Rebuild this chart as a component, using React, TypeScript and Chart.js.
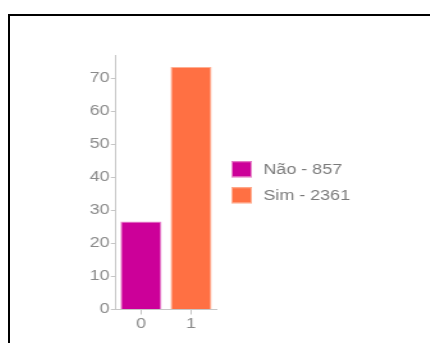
import { useEffect, useRef } from 'react';
import { Chart, registerables } from 'chart.js';
import type { Plugin } from 'chart.js';

Chart.register(...registerables);
const fontFamily = '"Liberation Sans", Arial, Helvetica, sans-serif';
Chart.defaults.font.family = fontFamily;

// Answers and their raw counts
const categories = ['Não', 'Sim'];
const counts = [857, 2361];
// Category labels on the x axis
const tickLabels = ['0', '1'];
// Y axis (percent)
const yMax = 77;
const yStep = 10;

const barColors = ['#CC0099', '#FF7043'];
const barEdgeColors = ['#E98ACB', '#FFAE92'];
const axisColor = '#c6c6c6';
const tickColor = '#8a8a8a';
const legendColor = '#7a7a7a';

// Legend drawn to the right of the plot area, vertically centred on it
const sideLegend: Plugin<'bar'> = {
  id: 'sideLegend',
  afterDraw(chart) {
    const { ctx, chartArea } = chart;
    const box = 16;
    const gap = 10;
    const items = chart.data.datasets;
    const totalH = items.length * box + (items.length - 1) * gap;
    const x = chartArea.right + 12;
    let y = (chartArea.top + chartArea.bottom) / 2 - totalH / 2;
    ctx.save();
    ctx.font = `14px ${fontFamily}`;
    ctx.textBaseline = 'middle';
    ctx.textAlign = 'left';
    items.forEach((ds) => {
      ctx.fillStyle = ds.backgroundColor as string;
      ctx.fillRect(x, y, box, box);
      ctx.strokeStyle = ds.borderColor as string;
      ctx.lineWidth = 1;
      ctx.strokeRect(x + 0.5, y + 0.5, box - 1, box - 1);
      ctx.fillStyle = legendColor;
      ctx.fillText(String(ds.label), x + box + 9, y + box / 2 + 0.5);
      y += box + gap;
    });
    ctx.restore();
  },
};

export default function App() {
  const canvasRef = useRef<HTMLCanvasElement>(null);

  useEffect(() => {
    const canvas = canvasRef.current;
    if (!canvas) return;
    const total = counts.reduce((a, b) => a + b, 0);
    const shares = counts.map((c) => (c / total) * 100);

    const chart = new Chart(canvas, {
      type: 'bar',
      data: {
        labels: tickLabels,
        datasets: categories.map((name, i) => ({
          label: `${name} - ${counts[i]}`,
          data: tickLabels.map((_, j) => (j === i ? shares[i] : null)),
          backgroundColor: barColors[i],
          borderColor: barEdgeColors[i],
          borderWidth: 1,
          grouped: false,
          barPercentage: 0.82,
          categoryPercentage: 1,
        })),
      },
      options: {
        responsive: false,
        animation: false,
        devicePixelRatio: 1,
        layout: { padding: { left: 61.2, top: 39, right: 115, bottom: 9.7 } },
        plugins: {
          tooltip: { enabled: false },
          legend: { display: false },
        },
        scales: {
          x: {
            grid: {
              offset: false,
              drawOnChartArea: false,
              drawTicks: true,
              tickLength: 5,
              color: axisColor,
            },
            border: { color: axisColor },
            ticks: { color: tickColor, font: { size: 14 }, padding: 1 },
          },
          y: {
            min: 0,
            max: yMax,
            grid: {
              drawOnChartArea: false,
              drawTicks: true,
              tickLength: 4,
              color: axisColor,
            },
            border: { color: axisColor },
            ticks: {
              stepSize: yStep,
              includeBounds: false,
              color: tickColor,
              font: { size: 14 },
              padding: 1,
            },
          },
        },
      },
      plugins: [sideLegend],
    });
    return () => chart.destroy();
  }, []);

  return (
    <div
      style={{
        position: 'fixed',
        left: 0,
        top: 0,
        width: 430,
        height: 343,
        overflow: 'hidden',
        background: '#fff',
      }}
    >
      <div
        style={{
          position: 'absolute',
          left: 8,
          top: 14,
          width: 470,
          height: 380,
          border: '2px solid #000',
          boxSizing: 'border-box',
        }}
      >
        <canvas
          ref={canvasRef}
          width={276}
          height={327}
          style={{
            position: 'absolute',
            left: 0,
            top: 0,
            transform: 'scaleX(1.28)',
            transformOrigin: '0 0',
          }}
        />
      </div>
    </div>
  );
}
